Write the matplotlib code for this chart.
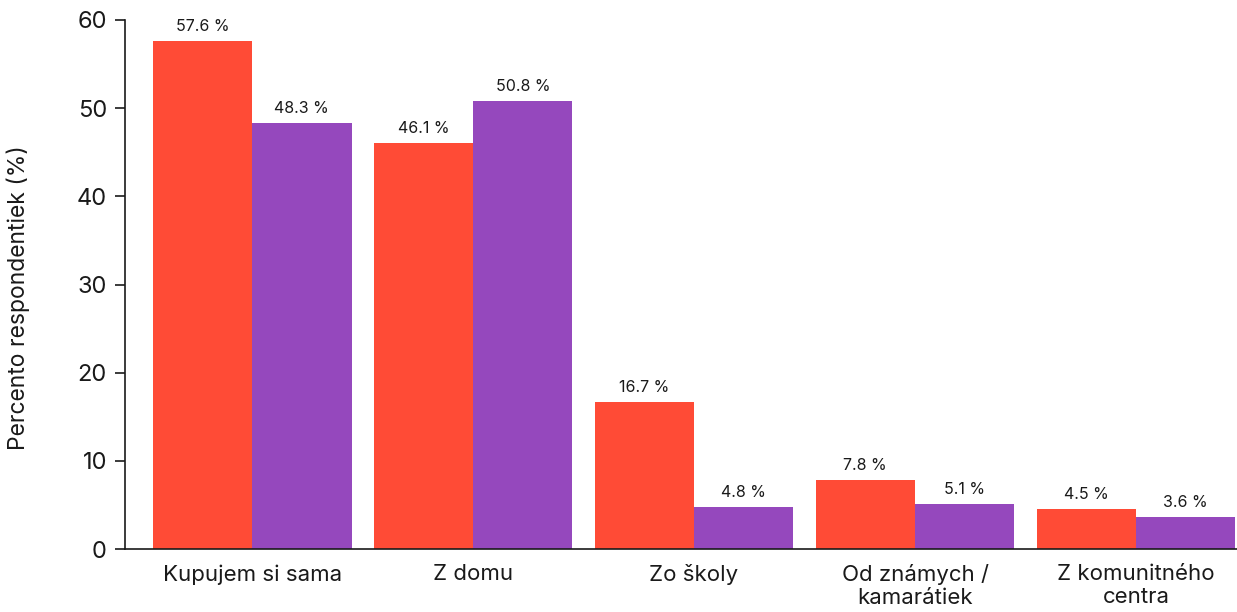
import numpy as np
import matplotlib.pyplot as plt

plt.rcParams['font.family'] = ['Inter', 'DejaVu Sans']

categories = ["Kupujem si sama", "Z domu", "Zo školy", "Od známych /\nkamarátiek", "Z komunitného\ncentra"]
red_values = [57.6, 46.1, 16.7, 7.8, 4.5]
purple_values = [48.3, 50.8, 4.8, 5.1, 3.6]

red = "#FF4B36"
purple = "#9548BD"

fig = plt.figure(figsize=(12.37, 6.12), dpi=100)
ax = fig.add_axes([125 / 1237, 1 - 549 / 612, 1 - 125 / 1237, (549 - 20) / 612])

x = np.arange(len(categories))
w = 0.45
b1 = ax.bar(x - w / 2, red_values, w, color=red)
b2 = ax.bar(x + w / 2, purple_values, w, color=purple)

for bars, vals in ((b1, red_values), (b2, purple_values)):
    for rect, v in zip(bars, vals):
        ax.annotate(f"{v:.1f} %", (rect.get_x() + rect.get_width() / 2, v),
                    xytext=(0, 5), textcoords="offset points",
                    ha="center", va="bottom", fontsize=11.5, color="#1a1a1a")

ax.set_xlim(-0.575, 4.457)
ax.set_ylim(0, 60)
ax.set_yticks([0, 10, 20, 30, 40, 50, 60])
ax.set_xticks(x)
ax.set_xticklabels(categories, fontsize=16, color="#1a1a1a", linespacing=1.15)
ax.tick_params(axis="x", length=0, pad=11)
ax.tick_params(axis="y", labelsize=17, length=7, width=1.2, pad=6, colors="#1a1a1a")
ax.set_ylabel("Percento respondentiek (%)", fontsize=16.5, color="#1a1a1a")
ax.yaxis.set_label_coords(-0.085, 0.475)

for s in ("top", "right"):
    ax.spines[s].set_visible(False)
for s in ("left", "bottom"):
    ax.spines[s].set_linewidth(1.2)
    ax.spines[s].set_color("#1a1a1a")

fig.savefig("out.png", dpi=100)
